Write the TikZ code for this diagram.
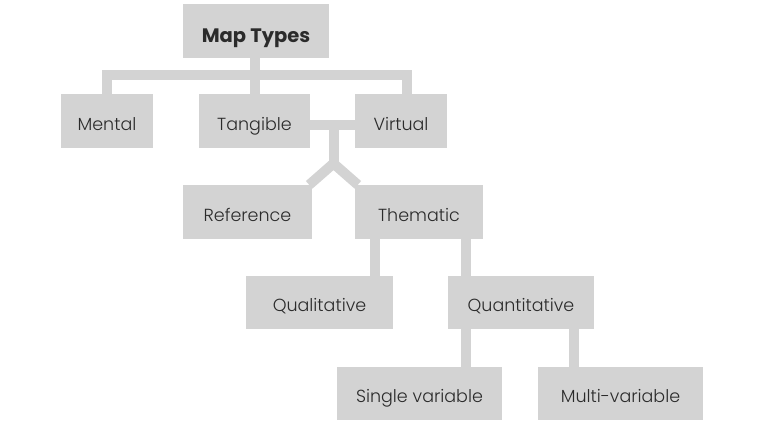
\documentclass[tikz,border=0pt]{standalone}
\usepackage{fontspec}
\setmainfont{Poppins Light}[BoldFont={Poppins Bold}]
\usetikzlibrary{calc}
\definecolor{boxgray}{HTML}{D3D3D3}
\definecolor{txt}{HTML}{2B2B2B}
\begin{document}
\begin{tikzpicture}[x=1pt,y=-1pt,
  box/.style={fill=boxgray,draw=none,inner sep=0pt,minimum height=54pt,text=txt,
    text height=18pt,text depth=0pt,font=\fontsize{17.5}{20}\selectfont},
  link/.style={draw=boxgray,line width=10pt,line cap=butt,line join=miter}]
\useasboundingbox[fill=white] (0,0) rectangle (761,434);
\node[box,minimum width=146pt,text height=22pt,font=\bfseries\fontsize{19.5}{24}\selectfont] (mt) at (256,31) {Map Types};
\node[box,minimum width=92pt] (mental) at (107,121) {Mental};
\node[box,minimum width=111pt] (tang) at (254.5,121) {Tangible};
\node[box,minimum width=92pt] (virt) at (401,121) {Virtual};
\node[box,minimum width=129pt] (ref) at (247.5,212) {Reference};
\node[box,minimum width=128pt] (them) at (419,212) {Thematic};
\node[box,minimum width=147pt,minimum height=53pt] (qual) at (319.5,302.5) {Qualitative};
\node[box,minimum width=146pt,minimum height=53pt] (quant) at (521,302.5) {Quantitative};
\node[box,minimum width=165pt,minimum height=53pt] (single) at (419.5,393.5) {Single variable};
\node[box,minimum width=165pt,minimum height=53pt] (multi) at (620.5,393.5) {Multi-variable};
\coordinate (barL) at ($(mental.north)+(0,-18.5)$);
\coordinate (barR) at ($(virt.north)+(6,-18.5)$);
\coordinate (tv) at ($(tang.east)!0.5!(virt.west)+(1,3.5)$);
\coordinate (junc) at ($(tv)+(0,40)$);
\draw[link] (mental.north) -- (barL) -- (barR) -- ($(virt.north)+(6,0)$);
\draw[link] (mt.south -| tang.north) -- (tang.north);
\draw[link] ([yshift=-3.5]tang.east) -- ([yshift=-3.5]virt.west);
\draw[link] (tv) -- (junc);
\draw[link] ($(ref.north east)+(-3,0)$) -- ($(junc)+(0,-1)$) -- ($(them.north west)+(3,0)$);
\draw[link] ([xshift=20]them.south west) -- ([xshift=20]them.south west |- qual.north);
\draw[link] ([xshift=-17]them.south east) -- ([xshift=-17]them.south east |- quant.north);
\draw[link] ([xshift=18]quant.south west) -- ([xshift=18]quant.south west |- single.north);
\draw[link] ([xshift=-20]quant.south east) -- ([xshift=-20]quant.south east |- multi.north);
\end{tikzpicture}
\end{document}
